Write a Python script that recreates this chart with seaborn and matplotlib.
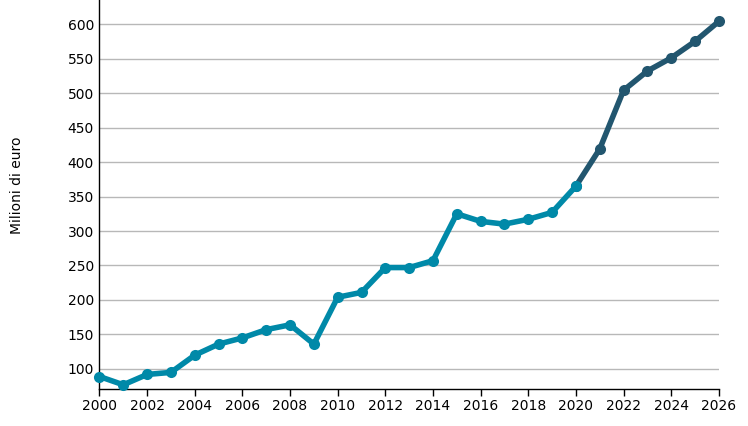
import matplotlib
matplotlib.use("Agg")
import matplotlib.pyplot as plt
import seaborn as sns
import pandas as pd

years_hist = [2000, 2001, 2002, 2003, 2004, 2005, 2006, 2007, 2008, 2009, 2010,
              2011, 2012, 2013, 2014, 2015, 2016, 2017, 2018, 2019, 2020]
values_hist = [89, 77, 92, 95, 120, 136, 145, 157, 164, 136, 204,
               211, 247, 247, 257, 325, 314, 310, 317, 327, 365]
years_fc = [2020, 2021, 2022, 2023, 2024, 2025, 2026]
values_fc = [365, 419, 504, 532, 551, 575, 604]
y_ticks = [100, 150, 200, 250, 300, 350, 400, 450, 500, 550, 600]
x_ticks = list(range(2000, 2027, 2))

sns.set_theme(style="white")
plt.rcParams['font.family'] = ['DejaVu Sans']

fig = plt.figure(figsize=(7.48, 4.26), dpi=100)
ax = fig.add_axes([0.133, 0.087, 0.828, 0.913])

df_h = pd.DataFrame({"anno": years_hist, "valore": values_hist})
df_f = pd.DataFrame({"anno": years_fc, "valore": values_fc})

sns.lineplot(data=df_f, x="anno", y="valore", ax=ax, color="#22566f", linewidth=4,
             marker="o", markersize=8, markeredgewidth=0, zorder=3)
sns.lineplot(data=df_h, x="anno", y="valore", ax=ax, color="#0089a8", linewidth=4,
             marker="o", markersize=8, markeredgewidth=0, zorder=4)

ax.set_xlim(2000, 2026)
ax.set_ylim(71, 635)
ax.set_yticks(y_ticks)
ax.set_xticks(x_ticks)
ax.yaxis.grid(True, color="#b8b8b8", linewidth=1)
ax.xaxis.grid(False)
for s in ["top", "right"]:
    ax.spines[s].set_visible(False)
for s in ["left", "bottom"]:
    ax.spines[s].set_color("black")
    ax.spines[s].set_linewidth(1)
ax.tick_params(axis="y", length=0, pad=4, labelsize=10, colors="black")
ax.tick_params(axis="x", bottom=True, length=5, width=1, pad=2, labelsize=10, colors="black")
ax.set_xlabel("")
ax.set_ylabel("Milioni di euro", fontsize=10, color="black")
ax.yaxis.set_label_coords(-0.122, 0.524)
for ln in ax.lines:
    ln.set_clip_on(False)

fig.savefig("out.png", dpi=100)
